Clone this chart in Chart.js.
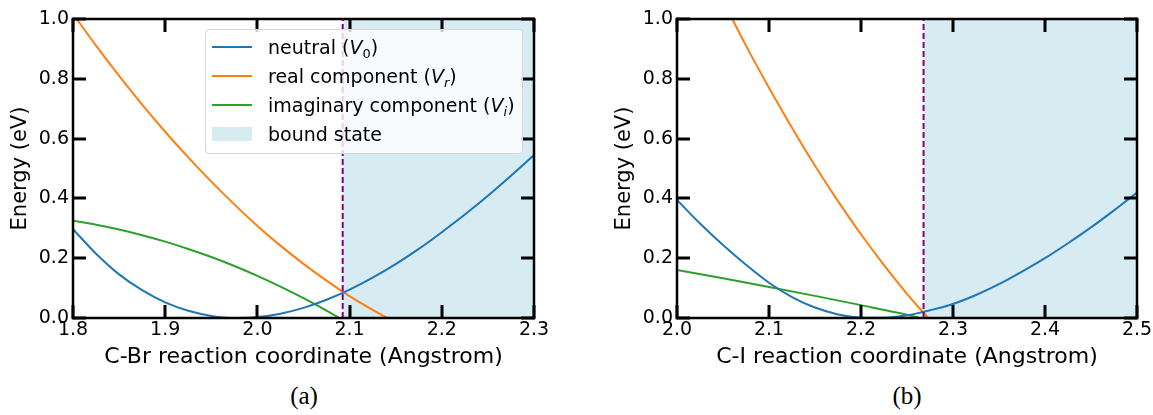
<!DOCTYPE html>
<html>
<head>
<meta charset="utf-8">
<script src="https://cdn.jsdelivr.net/npm/chart.js@4"></script>
<style>
body{margin:0;background:#fff;width:1153px;height:415px;position:relative;overflow:hidden;font-family:"DejaVu Sans",sans-serif}
.box{position:absolute;top:0;height:372px}
#boxA{left:0;width:560px}
#boxB{left:604px;width:549px}
.cap{position:absolute;top:382px;font-family:"Liberation Serif",serif;font-size:25px;transform:translateX(-50%);color:#000}
#legend{position:absolute;left:205px;top:29px;width:316px;height:121px;background:rgba(255,255,255,0.8);border:1px solid #d6d6d6;border-radius:4px;box-sizing:content-box;padding-top:2px;font-size:19px;color:#000}
#legend .row{height:29px;display:flex;align-items:center;padding-left:6px;white-space:nowrap}
#legend .sw{width:40px;margin-right:16px}
#legend i{font-style:oblique}
#legend sub{font-size:13px;vertical-align:-4px;line-height:0}
</style>
</head>
<body>
<div class="box" id="boxA"><canvas id="chartA"></canvas></div>
<div class="box" id="boxB"><canvas id="chartB"></canvas></div>
<div id="legend"></div>
<div class="cap" style="left:304px">(a)</div>
<div class="cap" style="left:907px">(b)</div>
<script>
// ---- (a) C-Br ----
const xA = [1.8,1.825,1.85,1.875,1.9,1.925,1.95,1.975,2.0,2.025,2.05,2.075,2.1,2.125,2.15,2.175,2.2,2.225,2.25,2.275,2.3];
const neutralA = [0.297,0.215,0.146,0.093,0.052,0.024,0.007,0.000,0.003,0.0145,0.034,0.061,0.095,0.135,0.180,0.231,0.287,0.346,0.409,0.476,0.545];
const realXA = [1.8,1.825,1.85,1.875,1.9,1.925,1.95,1.975,2.0,2.025,2.05,2.075,2.1,2.125,2.141];
const realA = [1.017,0.911,0.810,0.714,0.623,0.537,0.456,0.380,0.308,0.242,0.181,0.125,0.073,0.027,0.0];
const imagXA = [1.8,1.825,1.85,1.875,1.9,1.925,1.95,1.975,2.0,2.025,2.05,2.075,2.089];
const imagA = [0.325,0.312,0.296,0.277,0.2555,0.231,0.204,0.174,0.141,0.105,0.0665,0.025,0.0];
const boundA = 2.0925;
const xTicksA = [1.8,1.9,2.0,2.1,2.2,2.3];

// ---- (b) C-I ----
const xB = [2.0,2.025,2.05,2.075,2.1,2.125,2.15,2.175,2.2,2.225,2.25,2.275,2.3,2.325,2.35,2.375,2.4,2.425,2.45,2.475,2.5];
const neutralB = [0.395,0.316,0.244,0.178,0.118,0.070,0.035,0.012,0.002,0.001,0.009,0.026,0.047,0.077,0.113,0.155,0.2,0.25,0.303,0.36,0.42];
const realXB = [2.05,2.075,2.1,2.125,2.15,2.175,2.2,2.225,2.25,2.273];
const realB = [1.061,0.911,0.770,0.636,0.509,0.391,0.280,0.177,0.081,0.0];
const imagXB = [2.0,2.05,2.1,2.15,2.2,2.25,2.265];
const imagB = [0.161,0.133,0.104,0.074,0.043,0.011,0.0];
const boundB = 2.268;
const xTicksB = [2.0,2.1,2.2,2.3,2.4,2.5];

const yTicks = [0,0.2,0.4,0.6,0.8,1.0];
const labels = ['neutral','real component','imaginary component','bound state'];
const subs = ['0','r','i'];
const colors = ['#1f77b4','#ff7f0e','#2ca02c'];
const shade = 'rgba(173,216,230,0.5)';

function pts(xs, ys){ return xs.map((x,i)=>({x:x,y:ys[i]})); }

// box + inward ticks like matplotlib (filled rects)
function drawFrame(chart, xt){
    const ctx = chart.ctx, a = chart.chartArea;
    const sx = chart.scales.x, sy = chart.scales.y;
    const L = 13, W = 3;
    ctx.save();
    ctx.fillStyle = '#000';
    xt.forEach(v=>{
        const px = Math.round(sx.getPixelForValue(v));
        ctx.fillRect(px-1.5, a.bottom-L, W, L);
        ctx.fillRect(px-1.5, a.top, W, L);
    });
    yTicks.forEach(v=>{
        const py = Math.round(sy.getPixelForValue(v));
        ctx.fillRect(a.left, py-1.5, L, W);
        ctx.fillRect(a.right-L, py-1.5, L, W);
    });
    const B = 2.5;
    ctx.fillRect(a.left-1.25, a.top-1.25, a.right-a.left+B, B);
    ctx.fillRect(a.left-1.25, a.bottom-1.25, a.right-a.left+B, B);
    ctx.fillRect(a.left-1.25, a.top-1.25, B, a.bottom-a.top+B);
    ctx.fillRect(a.right-1.25, a.top-1.25, B, a.bottom-a.top+B);
    ctx.restore();
}

function makeChart(id, cfg){
    const line = (data,color,order)=>({
        type:'line', data:data, borderColor:color, borderWidth:2, pointRadius:0,
        fill:false, cubicInterpolationMode:'monotone', order:order
    });
    const datasets = [
        line(pts(cfg.x,cfg.neutral),colors[0],2),
        line(pts(cfg.realX,cfg.real),colors[1],2),
        line(pts(cfg.imagX,cfg.imag),colors[2],2),
        {type:'line', data:[{x:cfg.bound,y:1},{x:cfg.xTicks[cfg.xTicks.length-1],y:1}],
         borderWidth:0, pointRadius:0, fill:'origin', backgroundColor:shade, order:5},
        {type:'line', data:[{x:cfg.bound,y:0},{x:cfg.bound,y:1}], borderColor:'#800080',
         borderWidth:2, borderDash:[6,3], pointRadius:0, fill:false, order:0}
    ];
    return new Chart(document.getElementById(id),{
        type:'line',
        data:{datasets:datasets},
        options:{
            responsive:true, maintainAspectRatio:false, animation:false,
            layout:{padding:{left:0,top:19,right:cfg.padRight,bottom:2}},
            plugins:{legend:{display:false}, tooltip:{enabled:false}},
            scales:{
                x:{
                    type:'linear', min:cfg.xTicks[0], max:cfg.xTicks[cfg.xTicks.length-1],
                    grid:{display:false, drawTicks:false}, border:{display:false},
                    afterBuildTicks(s){ s.ticks = cfg.xTicks.map(v=>({value:v})); },
                    afterFit(s){ s.height = 52; s.paddingLeft = 0; s.paddingRight = 0; },
                    ticks:{autoSkip:false, maxRotation:0, padding:1, color:'#000',
                        font:{family:'DejaVu Sans', size:19}, callback:v=>v.toFixed(1)},
                    title:{display:true, text:cfg.xTitle, color:'#000',
                        font:{family:'DejaVu Sans', size:22}, padding:{top:0,bottom:0}}
                },
                y:{
                    type:'linear', min:0, max:1,
                    grid:{display:false, drawTicks:false}, border:{display:false},
                    afterBuildTicks(s){ s.ticks = yTicks.map(v=>({value:v})); },
                    afterFit(s){ s.width = 73; s.paddingTop = 0; s.paddingBottom = 0; },
                    ticks:{autoSkip:false, padding:4, color:'#000',
                        font:{family:'DejaVu Sans', size:19}, callback:v=>v.toFixed(1)},
                    title:{display:true, text:'Energy (eV)', color:'#000',
                        font:{family:'DejaVu Sans', size:21}, padding:{top:8,bottom:0}}
                }
            }
        },
        plugins:[{id:'frame', afterDraw(chart){ drawFrame(chart, cfg.xTicks); }}]
    });
}

makeChart('chartA',{x:xA,neutral:neutralA,realX:realXA,real:realA,imagX:imagXA,imag:imagA,
    bound:boundA,xTicks:xTicksA,padRight:26,xTitle:'C-Br reaction coordinate (Angstrom)'});
makeChart('chartB',{x:xB,neutral:neutralB,realX:realXB,real:realB,imagX:imagXB,imag:imagB,
    bound:boundB,xTicks:xTicksB,padRight:16,xTitle:'C-I reaction coordinate (Angstrom)'});

// legend (left panel only)
const leg = document.getElementById('legend');
labels.forEach((name,i)=>{
    const row = document.createElement('div');
    row.className = 'row';
    const sw = document.createElement('span');
    sw.className = 'sw';
    if(i < 3){ sw.style.height = '2px'; sw.style.background = colors[i]; }
    else { sw.style.height = '14px'; sw.style.background = shade; }
    row.appendChild(sw);
    const txt = document.createElement('span');
    txt.innerHTML = i < 3 ? name+' (<i>V</i><sub>'+(subs[i]==='0'?'0':'<i>'+subs[i]+'</i>')+'</sub>)' : name;
    row.appendChild(txt);
    leg.appendChild(row);
});
</script>
</body>
</html>
